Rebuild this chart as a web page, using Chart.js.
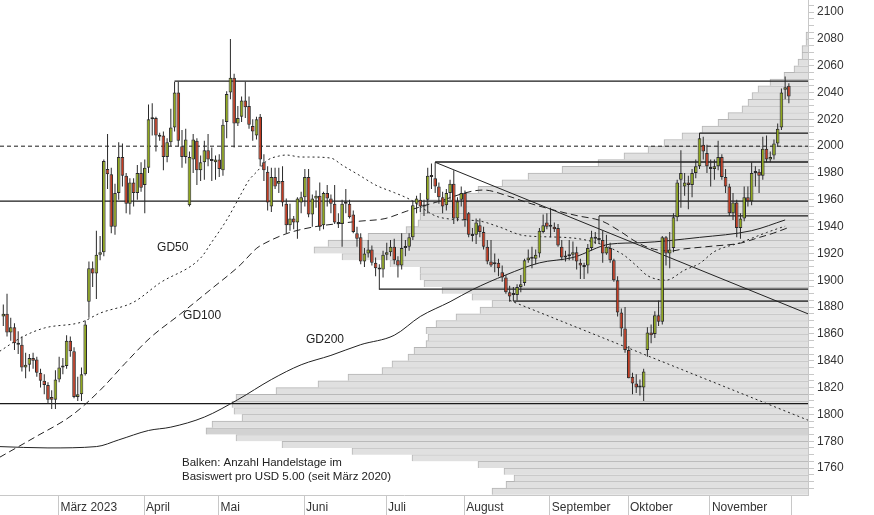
<!DOCTYPE html>
<html>
<head>
<meta charset="utf-8">
<script src="https://cdn.jsdelivr.net/npm/chart.js@4.4.1/dist/chart.umd.min.js"></script>
<style>
  body { margin: 0; background: #fff; }
  #wrap { width: 874px; height: 515px; position: relative; }
</style>
</head>
<body>
<div id="wrap"><canvas id="goldChart"></canvas></div>
<script>
// daily candles, index 0 = 8 Feb 2023 (weekdays)
const open = [
  1873,1875,1861,1865,1853,1852,1835,1837,1842,1841,
  1831,1825,1822,1813,1811,1826,1835,1836,1855,1847,
  1813,1815,1830,1884,1909,1905,1919,1921,1983,1979,
  1940,1965,1992,1978,1957,1973,1965,1980,1971,1984,
  2020,2021,2008,2008,1992,2003,2014,2040,2000,1992,
  1956,1990,2004,1982,1988,1997,1990,1988,1990,1982,
  2018,2040,2051,2017,2022,2034,2030,2015,2008,2022,
  1988,1981,1955,1977,1972,1974,1957,1941,1946,1943,
  1958,1962,1977,1949,1961,1963,1941,1965,1961,1957,
  1943,1942,1958,1957,1949,1935,1932,1914,1920,1923,
  1913,1909,1908,1919,1921,1925,1915,1911,1924,1925,
  1932,1957,1960,1955,1960,1978,1976,1970,1962,1956,
  1965,1972,1946,1960,1965,1950,1934,1934,1941,1936,
  1925,1914,1912,1913,1906,1902,1891,1889,1889,1895,
  1898,1915,1917,1916,1920,1936,1943,1940,1940,1939,
  1925,1917,1918,1919,1921,1913,1910,1911,1924,1932,
  1931,1930,1920,1924,1915,1900,1876,1864,1848,1828,
  1823,1820,1820,1848,1861,1860,1874,1869,1932,1920,
  1924,1947,1975,1970,1973,1971,1980,1985,2001,1995,
  1983,1983,1985,1992,1977,1970,1950,1958,1939,1946,
  1962,1959,1980,1981,1978,1998,1990,1993,2002,2014,
  2042,2045
];
const high = [
  1882,1890,1872,1868,1862,1858,1846,1845,1846,1843,
  1834,1830,1824,1818,1833,1843,1842,1859,1858,1850,
  1828,1835,1870,1914,1914,1937,1933,1990,2009,1984,
  1972,2003,2002,1980,1976,1976,1986,1988,1990,2031,
  2032,2022,2010,2011,2006,2028,2048,2048,2012,2013,
  1996,2009,2006,1993,2004,2009,1999,1993,1994,2020,
  2041,2080,2054,2030,2037,2048,2037,2020,2022,2024,
  1994,1985,1984,1984,1984,1985,1961,1957,1948,1962,
  1966,1983,1983,1964,1967,1973,1966,1971,1964,1971,
  1950,1960,1968,1960,1952,1940,1935,1924,1930,1926,
  1917,1912,1922,1928,1930,1931,1918,1935,1930,1935,
  1959,1963,1965,1960,1984,1987,1988,1973,1966,1968,
  1975,1982,1962,1970,1967,1951,1939,1946,1946,1940,
  1930,1930,1920,1916,1911,1904,1896,1895,1897,1904,
  1916,1923,1925,1923,1939,1949,1950,1954,1943,1942,
  1930,1922,1930,1929,1925,1916,1913,1927,1937,1936,
  1948,1937,1934,1928,1916,1903,1879,1880,1851,1831,
  1830,1826,1834,1865,1867,1877,1885,1933,1933,1936,
  1950,1975,1997,1980,1978,1983,1990,2009.8,2007,2001,
  1990,1990,2004,1994,1983,1972,1965,1960,1950,1970,
  1970,1988,1985,1983,2007,2008,1996,2005,2017,2043,
  2052,2047
];
const low = [
  1866,1858,1855,1848,1845,1832,1827,1832,1834,1828,
  1820,1815,1808,1804,1804,1824,1830,1834,1843,1812,
  1810,1810,1829,1872,1895,1886,1915,1918,1968,1935,
  1934,1960,1970,1950,1949,1955,1960,1966,1950,1980,
  2008,1996,2004,1982,1988,2000,2011,2000,1984,1987,
  1955,1980,1971,1974,1975,1985,1974,1975,1977,1978,
  2006,2035,1999,2015,2018,2021,2013,2004,2005,1985,
  1974,1952,1951,1968,1965,1955,1935,1937,1938,1931,
  1950,1955,1947,1940,1954,1937,1938,1955,1950,1942,
  1939,1925,1950,1946,1935,1925,1912,1910,1917,1911,
  1903,1893,1902,1915,1918,1912,1902,1908,1918,1922,
  1930,1950,1951,1948,1950,1968,1965,1957,1950,1952,
  1960,1942,1944,1955,1940,1932,1929,1927,1932,1923,
  1912,1910,1906,1903,1899,1890,1884,1884.5,1885,1891,
  1896,1913,1909,1912,1917,1935,1938,1932,1936,1925,
  1915,1914,1915,1915,1908,1901,1901,1905,1922,1927,
  1927,1913,1919,1913,1899,1873,1858,1846,1827,1815,
  1816,1814,1810,1843,1853,1857,1866,1867,1911,1909,
  1921,1944,1954,1963,1953,1962,1976,1983,1990,1980,
  1970,1975,1982,1975,1965,1948,1945,1932,1931,1944,
  1955,1956,1970,1965,1975,1988,1988,1990,2000,2012,
  2035,2032
];
const close = [
  1875,1861,1865,1853,1852,1835,1837,1842,1840,1831,
  1825,1822,1811,1811,1826,1835,1836,1855,1847,1813,
  1815,1830,1867,1909,1905,1919,1921,1989,1979,1940,
  1965,1992,1978,1957,1973,1965,1980,1969,1984,2020,
  2021,2008,2007,1992,2003,2014,2040,2004,1992,2005,
  1992,2005,1982,1988,1997,1990,1989,1990,1983,2016,
  2039,2051,2017,2021,2034,2029,2016,2011,2020,1990,
  1982,1958,1977,1970,1974,1958,1941,1946,1943,1961,
  1962,1977,1949,1961,1963,1940,1965,1961,1957,1943,
  1942,1957,1957,1947,1936,1931,1914,1920,1923,1913,
  1909,1908,1919,1921,1925,1915,1911,1924,1925,1932,
  1956,1961,1955,1956,1978,1977,1970,1962,1955,1965,
  1972,1946,1959,1965,1945,1934,1933,1943,1936,1925,
  1914,1911,1913,1909,1902,1891,1888,1889,1895,1897,
  1915,1917,1916,1919,1937,1941,1940,1940,1938,1926,
  1917,1918,1919,1921,1914,1911,1911,1924,1932,1931,
  1930,1920,1925,1915,1900,1876,1864,1848,1827,1823,
  1820,1820,1832,1861,1859,1874,1869,1932,1920,1923,
  1947,1973,1980,1973,1971,1980,1985,2006,1996,1985,
  1983,1985,1992,1977,1970,1950,1958,1939,1946,1962,
  1959,1980,1981,1978,1998,1990,1992,2002,2013,2040,
  2044,2037
];

// month axis
const monthStart = [15, 38, 58, 81, 103, 124, 147, 168, 190, 212];
const monthLabels = ['März 2023', 'April', 'Mai', 'Juni', 'Juli', 'August', 'September', 'Oktober', 'November', ''];
const priceLabels = [1760, 1780, 1800, 1820, 1840, 1860, 1880, 1900, 1920, 1940, 1960, 1980, 2000, 2020, 2040, 2060, 2080, 2100];

// volume profile: trading days per USD 5.00 bucket (lower bound)
const buckets = [
  1740,1745,1750,1755,1760,1765,1770,1775,1780,1785,
  1790,1795,1800,1805,1810,1815,1820,1825,1830,1835,
  1840,1845,1850,1855,1860,1865,1870,1875,1880,1885,
  1890,1895,1900,1905,1910,1915,1920,1925,1930,1935,
  1940,1945,1950,1955,1960,1965,1970,1975,1980,1985,
  1990,1995,2000,2005,2010,2015,2020,2025,2030,2035,
  2040,2045,2050,2055,2060,2065,2070,2075,2080
];
const bucketDays = [
  158,151,147,152,165,198,228,263,286,301,
  298,283,287,288,286,266,245,230,213,208,
  200,197,191,190,191,186,176,164,158,168,
  183,192,194,194,209,233,247,240,220,201,
  195,194,194,191,173,165,153,140,123,105,
  92,80,72,63,53,45,40,33,30,28,
  25,19,12,7,5,3,3,1,1
];

// moving averages (read at sample days)
const gd50Day = [-1, 5, 11, 21, 26, 35, 42, 53, 56, 60, 64, 66, 68, 71, 74, 76, 80, 82, 88, 91, 96, 100, 105, 109, 117, 128, 133, 140, 153, 166, 170, 173, 178, 183, 187, 191, 198, 205, 210];
const gd50Val = [1847, 1857.6, 1864.4, 1868.8, 1875.5, 1883.7, 1897.9, 1916.6, 1928.5, 1945, 1965, 1974.7, 1980.7, 1989.6, 1992.6, 1993.4, 1991.9, 1991.9, 1991.1, 1985.9, 1977.7, 1971, 1965.4, 1960.6, 1947.1, 1944.1, 1940, 1933.3, 1931.5, 1920, 1911, 1903.5, 1900.1, 1907.6, 1912.5, 1921.4, 1928.1, 1935.6, 1940.4];
const gd100Day = [-1, 8.5, 18.5, 26, 32.7, 39.4, 47.5, 55.5, 63.6, 68.1, 70.3, 76.5, 83.2, 90, 95.8, 102.5, 108.4, 116, 129, 135.6, 140.7, 149.5, 154.1, 160.8, 166.2, 169.4, 173.7, 179.1, 182.6, 190.6, 198, 202.5, 206.9, 210.5];
const gd100Val = [1768, 1783, 1799.5, 1818, 1838, 1857, 1874.7, 1892.7, 1911.3, 1924, 1927.7, 1935.2, 1939.7, 1942.3, 1944.1, 1946, 1951.6, 1958, 1967.3, 1962.8, 1958, 1951.2, 1948.2, 1944.1, 1935.6, 1929.6, 1924, 1921.8, 1923.3, 1925.5, 1927.7, 1931.5, 1935.2, 1938.9];
const gd200Day = [-1, 12, 25, 31, 39, 45, 54, 63, 72, 80, 88, 96, 105, 112, 120, 126, 135, 144, 153, 163, 171, 187, 201, 210];
const gd200Val = [1776, 1775, 1776, 1781, 1788, 1790.5, 1798, 1811, 1826, 1837, 1844, 1852, 1859, 1873, 1884, 1893, 1904, 1913, 1917, 1927, 1928, 1932, 1937, 1945];

// horizontal levels (start day, price) and trend channel
const levelFrom = [46, 187, 116, -1, 160, 101, 137, -1];
const levelPrice = [2048.5, 2009.8, 1988.2, 1959, 1948, 1893.4, 1884.5, 1808];
const roundLevel = 2000;
const trendDay = [116, 216.14];
const trendPrice = [1988, 1875];
const channelDay = [136, 216.14];
const channelPrice = [1885, 1795.7];

// texts
const maNames = ['GD50', 'GD100', 'GD200'];
const maNameDay = [41.3, 48.3, 81.3];
const maNamePrice = [1924.1, 1873.4, 1855.5];
const noteLines = ['Balken: Anzahl Handelstage im', 'Basiswert pro USD 5.00 (seit März 2020)'];
const noteDay = 48;
const notePrice = 1763.8;

const xMin = -0.886, xMax = 216.14;
const yMin = 1739.9, yMax = 2109;

Chart.defaults.font.family = "'Liberation Sans', Arial, sans-serif";
Chart.defaults.font.size = 12;
Chart.defaults.color = '#333';

const days = open.map((_, i) => i);
const wicks = days.map(i => ({ x: i, y: [low[i], high[i]] }));
const upBodies = days.filter(i => close[i] >= open[i]).map(i => ({ x: i, y: [open[i], close[i]] }));
const downBodies = days.filter(i => close[i] < open[i]).map(i => ({ x: i, y: [open[i], close[i]] }));
const maxDays = Math.max(...bucketDays);

const lineBase = { type: 'line', pointRadius: 0, fill: false, xAxisID: 'x', yAxisID: 'y', borderColor: '#1a1a1a' };

const levelSets = levelPrice.map((p, k) => Object.assign({}, lineBase, {
  data: [{ x: levelFrom[k], y: p }, { x: xMax, y: p }],
  borderWidth: 1.3,
  order: 10
}));

function maSet(dayArr, valArr, dash) {
  return Object.assign({}, lineBase, {
    data: dayArr.map((d, k) => ({ x: d, y: valArr[k] })),
    borderWidth: 1,
    borderColor: '#222',
    borderDash: dash,
    cubicInterpolationMode: 'monotone',
    order: 9
  });
}

function bodySet(data, color) {
  return {
    type: 'bar',
    data: data,
    xAxisID: 'x',
    yAxisID: 'y',
    backgroundColor: color,
    borderColor: '#2a2a2a',
    borderWidth: 1,
    borderSkipped: false,
    maxBarThickness: 3.6,
    barPercentage: 0.97,
    categoryPercentage: 1,
    minBarLength: 2,
    grouped: false,
    order: 2
  };
}

const textPlugin = {
  id: 'chartTexts',
  afterDatasetsDraw(chart) {
    const { ctx, scales: { x, y } } = chart;
    ctx.save();
    ctx.fillStyle = '#222';
    ctx.textBaseline = 'middle';
    ctx.textAlign = 'left';
    ctx.font = "12px 'Liberation Sans', Arial, sans-serif";
    maNames.forEach((t, k) => {
      ctx.fillText(t, x.getPixelForValue(maNameDay[k]), y.getPixelForValue(maNamePrice[k]));
    });
    ctx.font = "11.5px 'Liberation Sans', Arial, sans-serif";
    const nx = x.getPixelForValue(noteDay);
    const ny = y.getPixelForValue(notePrice);
    noteLines.forEach((t, k) => ctx.fillText(t, nx, ny + k * 14));
    ctx.restore();
  }
};

const ctx = document.getElementById('goldChart').getContext('2d');

new Chart(ctx, {
  type: 'line',
  data: {
    datasets: [
      {
        type: 'bar',
        indexAxis: 'y',
        xAxisID: 'xp',
        yAxisID: 'yp',
        data: buckets.map((b, k) => ({ x: bucketDays[k], y: b + 2.5 })),
        backgroundColor: bucketDays.map(d => d === maxDays ? '#d2d2d2' : '#e0e0e0'),
        borderColor: '#b4b4b4',
        borderWidth: { top: 1, left: 1, right: 0, bottom: 0 },
        borderSkipped: false,
        barPercentage: 1,
        categoryPercentage: 1,
        grouped: false,
        order: 20
      },
      ...levelSets,
      Object.assign({}, lineBase, {
        data: [{ x: xMin, y: roundLevel }, { x: xMax, y: roundLevel }],
        borderWidth: 1,
        borderDash: [4, 3],
        order: 10
      }),
      Object.assign({}, lineBase, {
        data: trendDay.map((d, k) => ({ x: d, y: trendPrice[k] })),
        borderWidth: 1,
        borderColor: '#222',
        order: 10
      }),
      Object.assign({}, lineBase, {
        data: channelDay.map((d, k) => ({ x: d, y: channelPrice[k] })),
        borderWidth: 1,
        borderColor: '#222',
        borderDash: [2, 3],
        order: 10
      }),
      maSet(gd200Day, gd200Val, []),
      maSet(gd100Day, gd100Val, [7, 4]),
      maSet(gd50Day, gd50Val, [2, 3]),
      {
        type: 'bar',
        data: wicks,
        xAxisID: 'x',
        yAxisID: 'y',
        backgroundColor: '#2a2a2a',
        maxBarThickness: 1,
        grouped: false,
        order: 3
      },
      bodySet(upBodies, '#8fa71d'),
      bodySet(downBodies, '#c23b22')
    ]
  },
  options: {
    responsive: true,
    maintainAspectRatio: false,
    animation: false,
    devicePixelRatio: 1,
    layout: { padding: 0 },
    plugins: {
      legend: { display: false },
      tooltip: { enabled: false }
    },
    scales: {
      x: {
        type: 'linear',
        min: xMin,
        max: xMax,
        offset: false,
        bounds: 'data',
        afterBuildTicks: (s) => { s.ticks = monthStart.map(v => ({ value: v - 0.2 })); },
        afterFit: (s) => { s.height = 20; s.paddingLeft = 0; s.paddingRight = 0; },
        ticks: {
          autoSkip: false,
          maxRotation: 0,
          align: 'start',
          labelOffset: 2,
          padding: -15,
          color: '#333',
          callback: (v, k) => monthLabels[k]
        },
        grid: { drawOnChartArea: false, tickLength: 20, color: '#c8c8c8', offset: false },
        border: { color: '#c8c8c8' }
      },
      y: {
        type: 'linear',
        position: 'right',
        min: yMin,
        max: yMax,
        bounds: 'data',
        afterBuildTicks: (s) => {
          const t = [];
          for (let v = 1745; v <= 2105; v += 5) t.push({ value: v });
          s.ticks = t;
        },
        afterFit: (s) => { s.width = 66; s.paddingTop = 0; s.paddingBottom = 0; },
        ticks: {
          autoSkip: false,
          padding: 3,
          color: '#333',
          callback: (v) => priceLabels.includes(v) ? String(v) : ''
        },
        grid: { drawOnChartArea: false, tickLength: 6, color: '#c8c8c8' },
        border: { color: '#c8c8c8' }
      },
      xp: { type: 'linear', display: false, reverse: true, min: 0, max: 404, offset: false },
      yp: { type: 'linear', display: false, min: yMin, max: yMax, offset: false }
    }
  },
  plugins: [textPlugin]
});
</script>
</body>
</html>
